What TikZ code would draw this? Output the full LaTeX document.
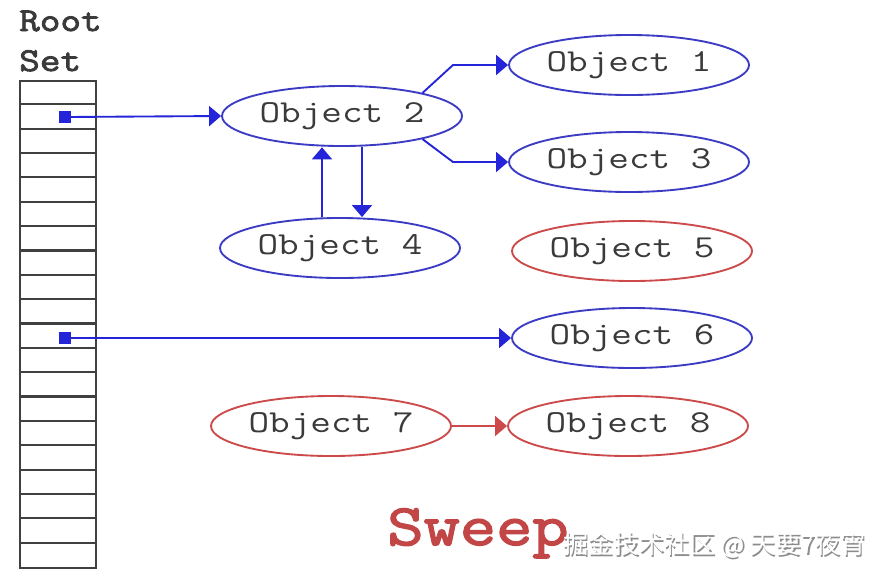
\documentclass[tikz,border=0pt]{standalone}
\usepackage{fontspec}
\newfontfamily\objfont{Latin Modern Mono}[FakeStretch=1.25]
\newfontfamily\boldmono{Latin Modern Mono}[FakeStretch=1.2, FakeBold=2.5]
\newfontfamily\cjkfont{Noto Sans CJK SC}
\usetikzlibrary{shapes.geometric,arrows.meta}
\definecolor{objblue}{HTML}{3B3BC4}
\definecolor{linkblue}{HTML}{2424D8}
\definecolor{objred}{HTML}{CC4A4A}
\definecolor{txtgray}{HTML}{3A3A3A}
\tikzset{
  obj/.style={ellipse, draw, line width=1.4pt, minimum width=180pt, minimum height=45pt,
    inner sep=0pt, text=txtgray, font=\fontsize{24}{24}\selectfont\objfont},
  live/.style={obj, draw=objblue},
  dead/.style={obj, draw=objred},
  link/.style={draw=linkblue, line width=1.4pt, -{Triangle[length=9pt,width=15pt]}},
  redlink/.style={draw=objred, line width=1.4pt, -{Triangle[length=9pt,width=15pt]}},
  rootdot/.style={fill=linkblue, minimum size=9pt, inner sep=0pt},
  rootcell/.style={draw=black!75, line width=1.6pt},
  rootlabel/.style={anchor=base west, inner sep=0pt, text=txtgray, font=\fontsize{25}{25}\selectfont\boldmono}
}
\begin{document}
\begin{tikzpicture}[x=0.75pt,y=-0.75pt]
\useasboundingbox (0,0) rectangle (884,576);
\fill[white] (0,0) rectangle (884,576);
% Root set label
\node[rootlabel] (rootlbl) at (19,31) {Root};
\node[rootlabel] (setlbl) at (19,71) {Set};
% Root set column
\node[rootcell, minimum width=57pt, minimum height=365.25pt, inner sep=0pt, anchor=north west] (col) at (19,80) {};
\foreach \k in {1,...,19} {
  \draw[rootcell] (19,80+24.35*\k) -- (95,80+24.35*\k);
}
\node[rootdot] (d1) at (65,117) {};
\node[rootdot] (d2) at (65,338) {};
% Objects
\node[live] (o2) at (342,116) {Object 2};
\node[live] (o1) at (629,65) {Object 1};
\node[live] (o3) at (629,162) {Object 3};
\node[live] (o4) at (340,248) {Object 4};
\node[dead] (o5) at (632,251) {Object 5};
\node[live] (o6) at (632,338) {Object 6};
\node[dead] (o7) at (331,426) {Object 7};
\node[dead] (o8) at (628,426) {Object 8};
% Connectors
\draw[link] (d1.center) -- (o2.west);
\draw[link] (d2.center) -- (o6.west);
\coordinate (b1) at (453,65);
\coordinate (b3) at (453,162);
\draw[link] (o2.16) -- (b1) -- (o1.west);
\draw[link] (o2.-16) -- (b3) -- (o3.west);
\coordinate (upx) at (322,0);
\coordinate (dnx) at (362,0);
\draw[link] (o4.north -| upx) -- ([yshift=-0.3pt]o2.south -| upx);
\draw[link] ([yshift=-0.3pt]o2.south -| dnx) -- (o4.north -| dnx);
\draw[redlink] (o7.east) -- (o8.west);
% Sweep label
\node[anchor=base, inner sep=0pt, text=objred!95!black, font=\fontsize{44}{44}\selectfont\boldmono] (sweep) at (478,545) {Sweep};
% Watermark
\node[anchor=east, inner sep=0pt, text=black!45, font=\fontsize{19}{19}\selectfont\cjkfont] (wmshadow) at (867.5,546.5) {掘金技术社区 @ 天要7夜宵};
\node[anchor=east, inner sep=0pt, text=white, font=\fontsize{19}{19}\selectfont\cjkfont] (wm) at (866,545) {掘金技术社区 @ 天要7夜宵};
\end{tikzpicture}
\end{document}
